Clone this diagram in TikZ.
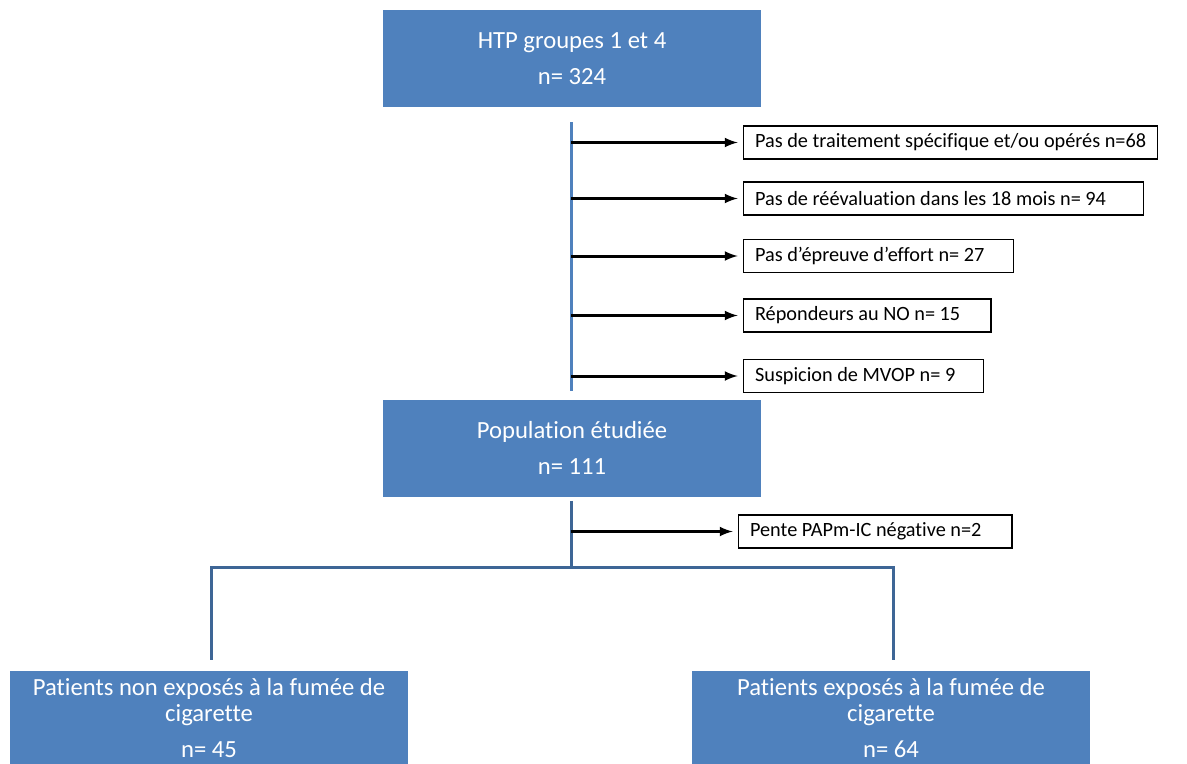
\documentclass[tikz,border=0pt]{standalone}
\usepackage{fontspec}
\setmainfont[Ligatures=NoCommon]{Carlito}
\usetikzlibrary{arrows,positioning,calc}
\definecolor{boxblue}{HTML}{4F81BD}
\definecolor{linkblue}{HTML}{3E6696}
\tikzset{bigbox/.style={rectangle, fill=boxblue, text=white, align=center, font=\fontsize{18.5}{27}\selectfont, minimum width=283.5pt, minimum height=72.75pt},
  groupbox/.style={rectangle, fill=boxblue, text=white, align=center, font=\fontsize{18.5}{19.5}\selectfont, minimum width=298pt, minimum height=70.5pt},
  exclbox/.style={rectangle, draw=black, line width=1.1pt, fill=white, anchor=west, align=flush left, font=\fontsize{15.2}{17}\selectfont, minimum height=24.75pt, inner xsep=8.5pt},
  excl/.style={line width=2.25pt, -latex, shorten >=4pt},
  trunk/.style={line width=2.25pt, color=boxblue},
  link/.style={line width=2.25pt, color=linkblue}}

\begin{document}
\begin{tikzpicture}[x=0.75pt,y=-0.75pt]
		\useasboundingbox (0,0) rectangle (1187,763);
		\clip (0,0) rectangle (1187,763);
		% main boxes
		\node[bigbox] (htp) at (572,58.5) {HTP groupes 1 et 4\\n= 324};
		\node[bigbox] (pop) at (572,448) {Population étudiée\\n= 111};
		\node[groupbox] (nonexp) at (209,718) {Patients non exposés à la fumée de\\cigarette\\[7pt]n= 45};
		\node[groupbox] (exp) at (891,718) {Patients exposés à la fumée de\\cigarette\\[7pt]n= 64};
		% exclusions
		\node[exclbox] (e1) at (743,142.5) {Pas de traitement spécifique et/ou opérés n=68};
		\node[exclbox, text width=283pt] (e2) at (743,198.5) {Pas de réévaluation dans les 18 mois n= 94};
		\node[exclbox, text width=185.5pt] (e3) at (743,256) {Pas d’épreuve d’effort n= 27};
		\node[exclbox, text width=168.5pt] (e4) at (743,315.5) {Répondeurs au NO n= 15};
		\node[exclbox, text width=163pt] (e5) at (743,376) {Suspicion de MVOP n= 9};
		\node[exclbox, text width=188pt] (e6) at (738,531.5) {Pente PAPm-IC négative n=2};
		% connectors
		\coordinate (t1) at ($(htp.south)+(-1,15)$);
		\coordinate (t2) at ($(pop.north)+(-1,-8)$);
		\draw[trunk] (t1) -- (t2);
		\foreach \e in {e1,e2,e3,e4,e5}
			\draw[excl] (t1 |- \e.west) -- (\e.west);
		\coordinate (s1) at ($(pop.south)+(-1,4)$);
		\coordinate (fork) at ($(pop.south)+(-1,71)$);
		\draw[link] (s1) -- (fork);
		\draw[excl] (s1 |- e6.west) -- (e6.west);
		\draw[link] ($(nonexp.north)+(2,-11)$) |- (fork) -| ($(exp.north)+(2,-11)$);
		\end{tikzpicture}
\end{document}
